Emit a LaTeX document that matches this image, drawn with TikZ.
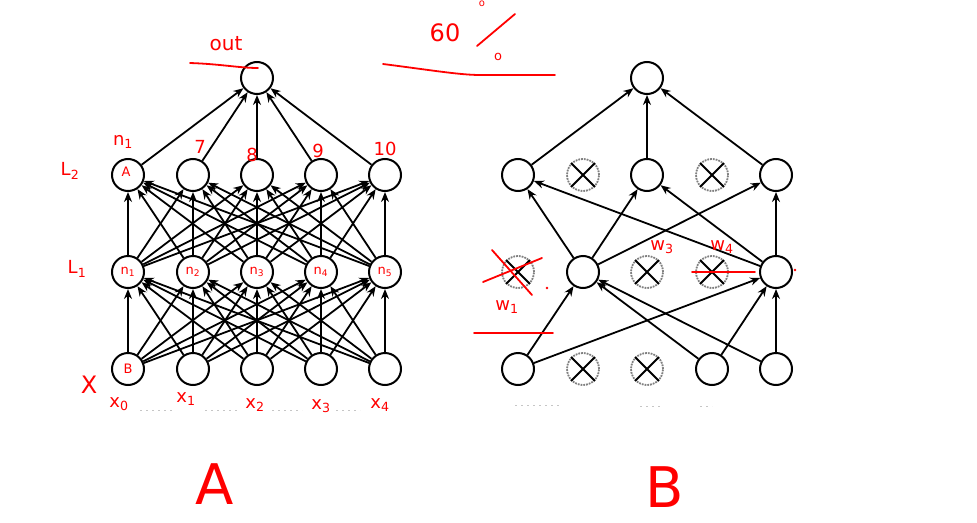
\documentclass[tikz,border=0pt]{standalone}
\usepackage{fontspec}
\setsansfont{DejaVu Sans}
\usetikzlibrary{arrows.meta}
\begin{document}
\begin{tikzpicture}[x=1pt,y=-1pt,
  neuron/.style={circle,draw,line width=2pt,minimum size=32pt,inner sep=0pt,fill=white},
  dropped/.style={circle,draw=gray,densely dotted,line width=1.8pt,minimum size=32pt,inner sep=0pt},
  conn/.style={-{Stealth[length=10pt,width=8pt]},line width=1.8pt},
  hand/.style={red,font=\sffamily\fontsize{18}{18}\selectfont,inner sep=0pt},
  handbig/.style={red,font=\sffamily\fontsize{56}{56}\selectfont,inner sep=0pt},
  redline/.style={red,line width=1.8pt,line cap=round},
  faint/.style={gray!45,line width=0.8pt,dash pattern=on 2pt off 4pt}]
\fill[white] (0,0) rectangle (977,522);
\useasboundingbox (0,0) rectangle (977,522);

% ---------- Network A ----------
\foreach \x [count=\i from 0] in {128,193,257,321,385} {
  \node[neuron] (a\i) at (\x,369) {};
  \node[neuron] (b\i) at (\x,272) {};
  \node[neuron] (c\i) at (\x,175) {};
}
\node[neuron] (aout) at (257,78) {};
\foreach \i in {0,...,4} {
  \foreach \j in {0,...,4} {
    \draw[conn] (a\i) -- (b\j);
    \draw[conn] (b\i) -- (c\j);
  }
  \draw[conn] (c\i) -- (aout);
}

% ---------- Network B ----------
\node[neuron]  (p0) at (518,369) {};
\node[dropped] (p1) at (583,369) {};
\node[dropped] (p2) at (647,369) {};
\node[neuron]  (p3) at (712,369) {};
\node[neuron]  (p4) at (776,369) {};
\node[dropped] (q0) at (518,272) {};
\node[neuron]  (q1) at (583,272) {};
\node[dropped] (q2) at (647,272) {};
\node[dropped] (q3) at (712,272) {};
\node[neuron]  (q4) at (776,272) {};
\node[neuron]  (r0) at (518,175) {};
\node[dropped] (r1) at (583,175) {};
\node[neuron]  (r2) at (647,175) {};
\node[dropped] (r3) at (712,175) {};
\node[neuron]  (r4) at (776,175) {};
\node[neuron]  (bout) at (647,78) {};
\foreach \n in {p1,p2,q0,q2,q3,r1,r3} {
  \draw[line width=1.8pt] (\n.45) -- (\n.225) (\n.135) -- (\n.315);
}
\draw[conn] (p0) -- (q1);
\draw[conn] (p0) -- (q4);
\draw[conn] (p3) -- (q1);
\draw[conn] (p4) -- (q1);
\draw[conn] (p3) -- (q4);
\draw[conn] (p4) -- (q4);
\draw[conn] (q1) -- (r0);
\draw[conn] (q1) -- (r2);
\draw[conn] (q1) -- (r4);
\draw[conn] (q4) -- (r0);
\draw[conn] (q4) -- (r2);
\draw[conn] (q4) -- (r4);
\draw[conn] (r0) -- (bout);
\draw[conn] (r2) -- (bout);
\draw[conn] (r4) -- (bout);

% faint marks under the networks
\draw[faint] (140,410) -- (172,410) (205,410) -- (238,410) (272,410) -- (302,410) (336,410) -- (360,410);
\draw[faint] (515,405) -- (560,405) (640,406) -- (660,406) (700,406) -- (712,406);

% ---------- red annotations ----------
\node[hand,font=\sffamily\fontsize{20}{20}\selectfont] at (226,44) {out};
\draw[redline] (190,63) .. controls (220,64) and (240,68) .. (258,68);
\node[hand,font=\sffamily\fontsize{24}{24}\selectfont] at (445,33) {60};
\draw[redline] (477,46) -- (515,14);
\node[hand,font=\sffamily\fontsize{13}{13}\selectfont] at (498,57) {o};
\node[hand,font=\sffamily\fontsize{10}{10}\selectfont] at (482,4) {o};
\draw[redline] (383,64) .. controls (430,70) and (460,75) .. (480,75) -- (555,75);

\node[hand] at (70,171) {L\textsubscript{2}};
\node[hand] at (123,142) {n\textsubscript{1}};
\node[hand,font=\sffamily\fontsize{13}{13}\selectfont] at (126,172) {A};
\node[hand] at (200,147) {7};
\node[hand] at (252,155) {8};
\node[hand] at (318,151) {9};
\node[hand] at (385,149) {10};

\node[hand] at (77,269) {L\textsubscript{1}};
\node[hand,font=\sffamily\fontsize{13}{13}\selectfont] at (b0) {n\textsubscript{1}};
\node[hand,font=\sffamily\fontsize{13}{13}\selectfont] at (b1) {n\textsubscript{2}};
\node[hand,font=\sffamily\fontsize{13}{13}\selectfont] at (b2) {n\textsubscript{3}};
\node[hand,font=\sffamily\fontsize{13}{13}\selectfont] at (b3) {n\textsubscript{4}};
\node[hand,font=\sffamily\fontsize{13}{13}\selectfont] at (b4) {n\textsubscript{5}};
\node[hand,font=\sffamily\fontsize{13}{13}\selectfont] at (a0) {B};

\node[hand,font=\sffamily\fontsize{24}{24}\selectfont] at (89,385) {X};
\node[hand] at (119,404) {x\textsubscript{0}};
\node[hand] at (186,399) {x\textsubscript{1}};
\node[hand] at (255,405) {x\textsubscript{2}};
\node[hand] at (321,406) {x\textsubscript{3}};
\node[hand] at (380,405) {x\textsubscript{4}};

\node[handbig] at (215,484) {A};
\node[handbig] at (665,487) {B};

% B annotations
\draw[redline] (492,250) -- (532,295);
\draw[redline] (483,282) -- (542,258);
\fill[red] (547,288) circle (1.4);
\node[hand] at (507,307) {w\textsubscript{1}};
\draw[redline] (474,333) -- (553,333);
\node[hand] at (662,247) {w\textsubscript{3}};
\node[hand] at (722,247) {w\textsubscript{4}};
\draw[redline] (692,272) -- (755,272);
\fill[red] (795,270) circle (1.4);
\end{tikzpicture}
\end{document}
